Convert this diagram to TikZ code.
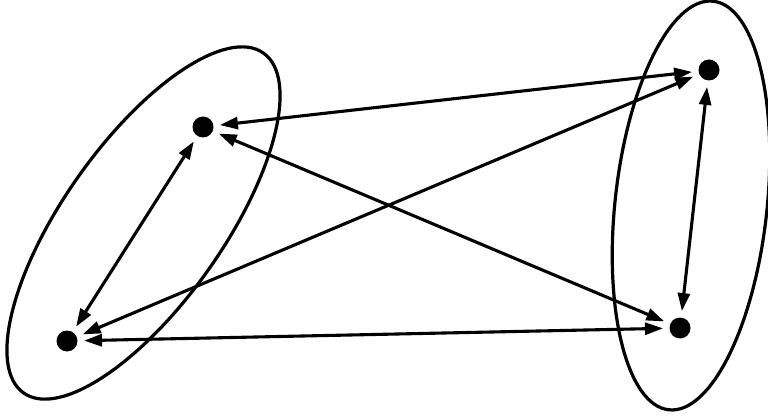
\documentclass[tikz,border=0pt]{standalone}
\usetikzlibrary{arrows.meta}
\begin{document}
\begin{tikzpicture}[x=1pt,y=1pt,
  dot/.style={circle,fill=black,draw=none,inner sep=0pt,minimum size=21pt,outer sep=6.5pt},
  link/.style={line width=3.1pt,{Triangle[length=18pt,width=12pt]}-{Triangle[length=18pt,width=12pt]}},
  group/.style={line width=3.2pt}]
\useasboundingbox (0,0) rectangle (768,418);
\draw[group] (143.5,195) ellipse[x radius=208pt,y radius=80pt,rotate=54.8];
\draw[group] (691,212.5) ellipse[x radius=205.5pt,y radius=76pt,rotate=83.8];
\node[dot] (A) at (203,291) {};
\node[dot] (B) at (67,77) {};
\node[dot] (C) at (709,348) {};
\node[dot] (D) at (680,90) {};
\draw[link] (A) -- (C);
\draw[link] (A) -- (D);
\draw[link] (B) -- (C);
\draw[link] (B) -- (D);
\draw[link] (A) -- (B);
\draw[link] (C) -- (D);
\end{tikzpicture}
\end{document}
